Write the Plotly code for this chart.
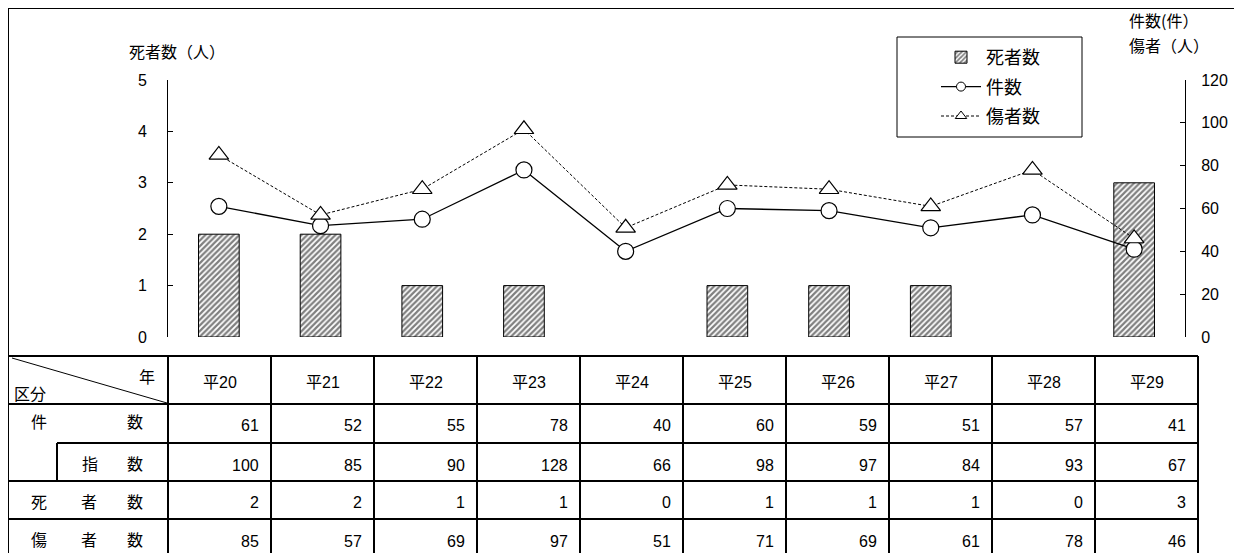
import plotly.graph_objects as go

W, H = 1242, 553
OFF = 8  # page offset of the figure (body margin)

years = ["平20", "平21", "平22", "平23", "平24", "平25", "平26", "平27", "平28", "平29"]
cases = [61, 52, 55, 78, 40, 60, 59, 51, 57, 41]
index_vals = [100, 85, 90, 128, 66, 98, 97, 84, 93, 67]
deaths = [2, 2, 1, 1, 0, 1, 1, 1, 0, 3]
injured = [85, 57, 69, 97, 51, 71, 69, 61, 78, 46]


def px(x):
    return (x - OFF) / W


def py(y):
    return 1 - (y - OFF) / H


NFONT = "Liberation Sans, Arial, sans-serif"
JFONT = "Noto Sans CJK JP, sans-serif"
MIX = "Liberation Sans, Noto Sans CJK JP, sans-serif"

HATCH = dict(shape="/", fgcolor="#000000", bgcolor="white", size=4, solidity=0.55)

fig = go.Figure()
fig.add_trace(go.Bar(
    x=years, y=[d if d > 0 else None for d in deaths], name="死者数", width=0.4,
    marker=dict(color="white", line=dict(color="black", width=1), pattern=HATCH),
    yaxis="y", legendgroup="a", legendrank=1,
))
fig.add_trace(go.Scatter(
    x=years, y=cases, name="件数", mode="lines+markers", showlegend=False,
    line=dict(color="black", width=1.3),
    marker=dict(symbol="circle", size=16, color="white", line=dict(color="black", width=1.2)),
    yaxis="y2",
))
fig.add_trace(go.Scatter(
    x=years, y=injured, name="傷者数", mode="lines+markers", showlegend=False,
    line=dict(color="black", width=1, dash="3px,2px"),
    marker=dict(symbol="triangle-up", size=17, color="white", line=dict(color="black", width=1.2)),
    yaxis="y2",
))
# legend-only entries with small symbols
fig.add_trace(go.Scatter(
    x=[None], y=[None], name="件数", mode="lines+markers", legendgroup="b", legendrank=2,
    line=dict(color="black", width=1.2),
    marker=dict(symbol="circle", size=9, color="white", line=dict(color="black", width=1)),
    yaxis="y2",
))
fig.add_trace(go.Scatter(
    x=[None], y=[None], name="傷者数", mode="lines+markers", legendgroup="c", legendrank=3,
    line=dict(color="black", width=1, dash="3px,2px"),
    marker=dict(symbol="triangle-up", size=10, color="white", line=dict(color="black", width=1)),
    yaxis="y2",
))

x0, x1 = 168, 1185
ytop, ybot = 80, 337

shapes = []
ann = []


def hline(y, xa, xb, w=2):
    shapes.append(dict(type="line", xref="paper", yref="paper", x0=px(xa), x1=px(xb),
                       y0=py(y), y1=py(y), line=dict(color="black", width=w)))


def vline(x, ya, yb, w=2):
    shapes.append(dict(type="line", xref="paper", yref="paper", x0=px(x), x1=px(x),
                       y0=py(ya), y1=py(yb), line=dict(color="black", width=w)))


def text(x, y, s, size=16, xanchor="center", font=JFONT):
    ann.append(dict(x=px(x), y=py(y), xref="paper", yref="paper", text=s, showarrow=False,
                    xanchor=xanchor, yanchor="middle", font=dict(size=size, family=font, color="black")))


# outer border
hline(8, 8, 1250)
vline(8, 8, 561)

# legend frame
shapes.append(dict(type="rect", xref="paper", yref="paper", x0=px(897), x1=px(1082),
                   y0=py(37), y1=py(137), line=dict(color="black", width=1),
                   fillcolor="white", layer="below"))

# table
tl, tc, tr = 8, 168, 1198
cw = (tr - tc) / len(years)
r0, r1, r2, r3, r4, r5 = 356, 404, 443, 481, 519, 561
hline(r0, tl, tr)
hline(r1, tl, tr)
hline(r2, 57, tr)
hline(r3, tl, tr)
hline(r4, tl, tr)
vline(tc, r0, r5)
vline(57, r2, r3)
for k in range(1, len(years) + 1):
    vline(tc + cw * k, r0, r5)
shapes.append(dict(type="line", xref="paper", yref="paper", x0=px(12), y0=py(358),
                   x1=px(167), y1=py(403), line=dict(color="black", width=1)))

text(147, 376, "年")
text(12, 393, "区分", xanchor="left")
text(39, 421, "件")
text(135, 421, "数")
text(90, 463, "指")
text(135, 463, "数")
for lab, xx in zip(["死", "者", "数"], [39, 89, 135]):
    text(xx, 501, lab)
for lab, xx in zip(["傷", "者", "数"], [39, 89, 135]):
    text(xx, 539, lab)

for i, yr in enumerate(years):
    cx = tc + cw * (i + 0.5)
    right = tc + cw * (i + 1) - 10
    text(cx, 382, yr, font=MIX)
    text(right, 425, str(cases[i]), xanchor="right", font=NFONT)
    text(right, 465, str(index_vals[i]), xanchor="right", font=NFONT)
    text(right, 502, str(deaths[i]), xanchor="right", font=NFONT)
    text(right, 541, str(injured[i]), xanchor="right", font=NFONT)

# axis titles
text(127, 51, "死者数（人）", xanchor="left")
text(1127, 20, "件数(件）", xanchor="left")
text(1127, 45, "傷者（人）", xanchor="left")

fig.update_layout(
    width=W, height=H,
    autosize=False,
    margin=dict(l=0, r=0, t=0, b=0, pad=0, autoexpand=False),
    paper_bgcolor="white", plot_bgcolor="rgba(0,0,0,0)",
    font=dict(family=NFONT, size=16, color="black"),
    barmode="overlay",
    xaxis=dict(domain=[px(x0), px(x1)], range=[-0.5, 9.5], showticklabels=False, automargin=False,
               showgrid=False, zeroline=False, showline=False, ticks=""),
    yaxis=dict(domain=[py(ybot), py(ytop)], range=[0, 5], dtick=1, showgrid=False, zeroline=False,
               automargin=False,
               showline=True, linecolor="black", linewidth=1, ticks="inside", ticklen=5,
               tickcolor="black", ticklabelstandoff=17, tickfont=dict(size=16, family=NFONT)),
    yaxis2=dict(domain=[py(ybot), py(ytop)], range=[0, 120], dtick=20, overlaying="y", side="right",
                anchor="x", showgrid=False, zeroline=False, showline=True, linecolor="black",
                automargin=False,
                linewidth=1, ticks="inside", ticklen=5, tickcolor="black", ticklabelstandoff=12,
                tickfont=dict(size=16, family=NFONT)),
    legend=dict(x=px(936), y=py(39), xanchor="left", yanchor="top", borderwidth=0,
                bgcolor="rgba(0,0,0,0)", font=dict(size=18, family=JFONT),
                itemwidth=40, tracegroupgap=3, traceorder="grouped"),
    shapes=shapes,
    annotations=ann,
    showlegend=True,
)

fig.write_html("out.html")
